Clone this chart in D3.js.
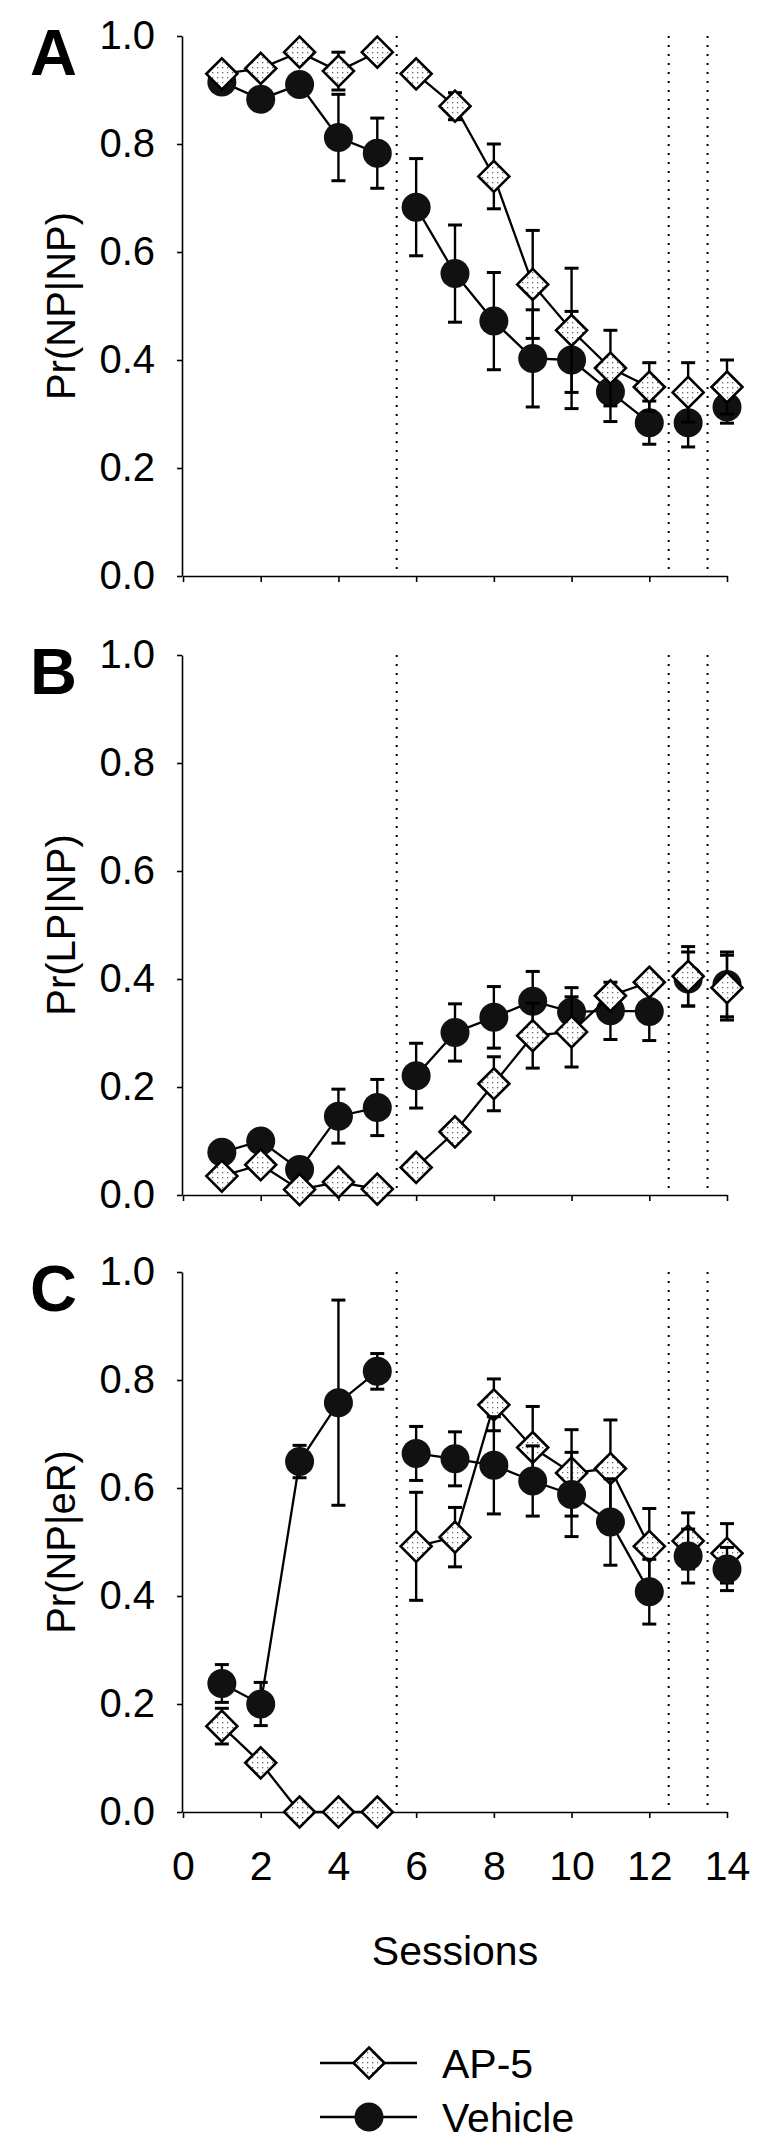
<!DOCTYPE html>
<html><head><meta charset="utf-8">
<script src="https://cdn.jsdelivr.net/npm/d3@7"></script>
<style>body{margin:0;background:#fff}</style>
</head><body>
<svg id="chart" width="769" height="2148"></svg>
<script>
// ---------- data ----------
const sessions = [1,2,3,4,5,6,7,8,9,10,11,12,13,14];
const yTicks = [0,0.2,0.4,0.6,0.8,1.0];
const xTicks = [0,2,4,6,8,10,12,14];
const phaseBreaks = [5.5,12.5,13.5];
const segments = [[1,5],[6,12],[13,13],[14,14]];
const seriesNames = ["AP-5","Vehicle"];
const panelLetters = ["A","B","C"];
const yLabels = ["Pr(NP|NP)","Pr(LP|NP)","Pr(NP|eR)"];
const xLabel = "Sessions";

// Panel A: Pr(NP|NP)
const apA     = [0.93,0.94,0.97,0.935,0.97,0.93,0.87,0.74,0.54,0.455,0.385,0.35,0.34,0.35];
const apAErr  = [0.01,0.01,0.01,0.035,0.01,0.01,0.025,0.06,0.10,0.115,0.07,0.045,0.055,0.05];
const vehA    = [0.915,0.883,0.91,0.812,0.783,0.683,0.56,0.472,0.403,0.40,0.341,0.284,0.284,0.313];
const vehAErr = [0.01,0.02,0.01,0.08,0.065,0.09,0.09,0.09,0.09,0.09,0.055,0.04,0.045,0.03];

// Panel B: Pr(LP|NP)
const apB     = [0.035,0.056,0.01,0.024,0.011,0.051,0.117,0.206,0.295,0.302,0.369,0.394,0.405,0.384];
const apBErr  = [0.01,0.01,0.01,0.01,0.01,0.01,0.015,0.05,0.06,0.065,0.01,0.01,0.055,0.06];
const vehB    = [0.079,0.10,0.047,0.146,0.162,0.221,0.301,0.329,0.359,0.339,0.341,0.34,0.40,0.39];
const vehBErr = [0.01,0.02,0.01,0.05,0.052,0.06,0.053,0.057,0.055,0.045,0.053,0.054,0.05,0.06];

// Panel C: Pr(NP|eR)
const apC     = [0.159,0.091,0,0,0,0.492,0.509,0.754,0.675,0.628,0.636,0.492,0.502,0.479];
const apCErr  = [0.033,0.01,0,0,0,0.10,0.055,0.048,0.076,0.08,0.09,0.07,0.052,0.055];
const vehC    = [0.238,0.20,0.649,0.758,0.816,0.664,0.654,0.642,0.613,0.588,0.537,0.408,0.474,0.45];
const vehCErr = [0.035,0.04,0.03,0.19,0.033,0.05,0.05,0.09,0.065,0.078,0.08,0.06,0.05,0.04];

const panelData = [
  {ap: apA, apErr: apAErr, veh: vehA, vehErr: vehAErr, vehOnTop: false},
  {ap: apB, apErr: apBErr, veh: vehB, vehErr: vehBErr, vehOnTop: false},
  {ap: apC, apErr: apCErr, veh: vehC, vehErr: vehCErr, vehOnTop: true}
];

// ---------- layout ----------
const FONT = "'Liberation Sans', Arial, Helvetica, sans-serif";
const panelTops = [36, 655, 1272];
const panelH = 540;
const x = d3.scaleLinear().domain([0,14]).range([183,727]);

const svg = d3.select("#chart");
const defs = svg.append("defs");
const pat = defs.append("pattern").attr("id","dots").attr("patternUnits","userSpaceOnUse")
  .attr("width",5).attr("height",5);
pat.append("rect").attr("width",5).attr("height",5).attr("fill","#fff");
pat.append("rect").attr("x",2).attr("y",2).attr("width",1.3).attr("height",1.3).attr("fill","#666");

const diamondPath = (cx, cy, r) => `M${cx},${cy-r}L${cx+r},${cy}L${cx},${cy+r}L${cx-r},${cy}Z`;

panelData.forEach((pd, i) => {
  const top = panelTops[i];
  const y = d3.scaleLinear().domain([0,1]).range([top+panelH, top]);
  const g = svg.append("g");

  // dotted phase lines
  g.selectAll("line.phase").data(phaseBreaks).join("line")
    .attr("x1", d => x(d)).attr("x2", d => x(d))
    .attr("y1", y(1)).attr("y2", y(0))
    .attr("stroke","#000").attr("stroke-width",2)
    .attr("stroke-dasharray","2,7");

  // y axis
  const ya = g.append("g").attr("transform",`translate(${x(0)-1},0)`)
    .call(d3.axisLeft(y).tickValues(yTicks).tickFormat(d3.format(".1f"))
      .tickSize(5).tickSizeOuter(0).tickPadding(22));
  ya.selectAll("path,line").attr("stroke","#000").attr("stroke-width",1.6);
  ya.selectAll("text").attr("font-family",FONT).attr("font-size",40).attr("fill","#000");

  // x axis
  const xa = g.append("g").attr("transform",`translate(0,${y(0)})`)
    .call(d3.axisBottom(x).tickValues(xTicks).tickSize(6).tickSizeOuter(0)
      .tickFormat(i === 2 ? d3.format("d") : () => ""));
  xa.selectAll("path,line").attr("stroke","#000").attr("stroke-width",1.6);
  xa.selectAll("text").attr("font-family",FONT).attr("font-size",41).attr("fill","#000")
    .attr("dy",null).attr("y",68);

  // panel letter
  g.append("text").attr("x",30).attr("y",top+39).text(panelLetters[i])
    .attr("font-family",FONT).attr("font-weight","bold").attr("font-size",65);

  // y label
  g.append("text").attr("transform",`translate(75,${top+panelH/2}) rotate(-90)`)
    .attr("text-anchor","middle").text(yLabels[i])
    .attr("font-family",FONT).attr("font-size",40);

  const series = [
    {name:"AP-5", vals: pd.ap, errs: pd.apErr, type:"diamond"},
    {name:"Vehicle", vals: pd.veh, errs: pd.vehErr, type:"circle"}
  ];
  const order = pd.vehOnTop ? [series[0], series[1]] : [series[1], series[0]];

  order.forEach(s => {
    const pts = sessions.map((sv, k) => ({s: sv, v: s.vals[k], e: s.errs[k]}));
    const sg = g.append("g");
    // error bars
    pts.filter(p => p.e > 0).forEach(p => {
      const lo = Math.max(0, p.v - p.e), hi = p.v + p.e;
      sg.append("line").attr("x1",x(p.s)).attr("x2",x(p.s)).attr("y1",y(lo)).attr("y2",y(hi))
        .attr("stroke","#000").attr("stroke-width",2.4);
      [lo, hi].forEach(b => sg.append("line").attr("x1",x(p.s)-7).attr("x2",x(p.s)+7)
        .attr("y1",y(b)).attr("y2",y(b)).attr("stroke","#000").attr("stroke-width",3));
    });
    // connecting lines by phase segment
    const line = d3.line().x(p => x(p.s)).y(p => y(p.v));
    segments.forEach(([a,b]) => {
      const seg = pts.filter(p => p.s >= a && p.s <= b);
      if (seg.length > 1) sg.append("path").attr("d", line(seg))
        .attr("fill","none").attr("stroke","#000").attr("stroke-width",2.3);
    });
    // markers
    if (s.type === "circle") {
      sg.selectAll("circle").data(pts).join("circle")
        .attr("cx", p => x(p.s)).attr("cy", p => y(p.v)).attr("r", 14.5).attr("fill","#111");
    } else {
      sg.selectAll("path.dm").data(pts).join("path").attr("class","dm")
        .attr("d", p => diamondPath(x(p.s), y(p.v), 15.5))
        .attr("fill","url(#dots)").attr("stroke","#000").attr("stroke-width",2.6);
    }
  });
});

// x axis title
svg.append("text").attr("x", (x(0)+x(14))/2).attr("y",1965).attr("text-anchor","middle")
  .text(xLabel).attr("font-family",FONT).attr("font-size",41);

// legend
const legY = [2063, 2117];
seriesNames.forEach((name, k) => {
  const lg = svg.append("g");
  lg.append("line").attr("x1",320).attr("x2",417).attr("y1",legY[k]).attr("y2",legY[k])
    .attr("stroke","#000").attr("stroke-width",2.3);
  if (k === 0) {
    lg.append("path").attr("d", diamondPath(369, legY[k], 15.5))
      .attr("fill","url(#dots)").attr("stroke","#000").attr("stroke-width",2.6);
  } else {
    lg.append("circle").attr("cx",369).attr("cy",legY[k]).attr("r",14.5).attr("fill","#111");
  }
  lg.append("text").attr("x",442).attr("y",legY[k]+15).text(name)
    .attr("font-family",FONT).attr("font-size",41);
});
</script>
</body></html>
